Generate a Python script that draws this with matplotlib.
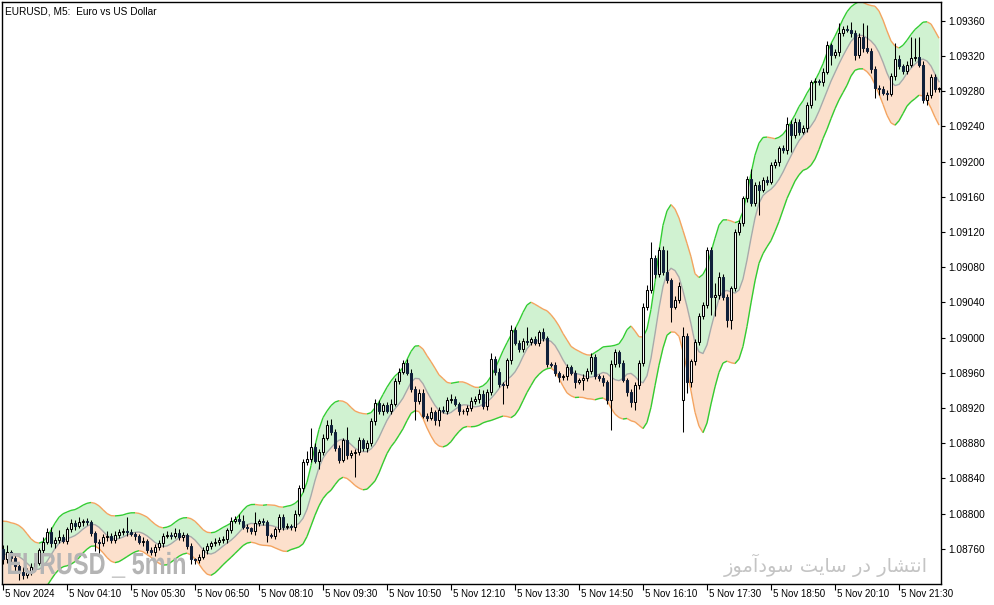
import numpy as np
import matplotlib
matplotlib.use("Agg")
import matplotlib.pyplot as plt
import matplotlib.transforms as mtrans
from matplotlib.collections import LineCollection
from matplotlib.textpath import TextPath
from matplotlib.font_manager import FontProperties
from matplotlib.patches import PathPatch

# EURUSD M5, 5 Nov 2024 - prices given as pips above 1.08700
base = 1.08700
first_open = 6.0
closes = [
    4.8, 5.6, 5.0, 4.0, 3.3, 3.0, 3.5, 3.9, 4.4, 5.8,
    6.8, 7.9, 6.7, 7.0, 7.3, 6.9, 8.2, 8.9, 8.6, 9.0,
    9.1, 9.0, 7.8, 6.8, 6.6, 7.3, 7.5, 7.0, 7.6, 7.9,
    8.0, 7.9, 7.7, 7.4, 6.8, 6.9, 5.9, 5.6, 6.2, 6.6,
    7.5, 7.6, 7.5, 7.8, 7.3, 7.6, 6.3, 4.8, 4.7, 5.1,
    5.8, 6.3, 6.6, 6.8, 7.0, 7.1, 8.1, 9.2, 9.4, 9.2,
    8.5, 8.3, 8.0, 8.9, 9.1, 9.0, 7.6, 7.5, 8.2, 9.6,
    8.5, 8.6, 8.5, 10.0, 12.9, 15.8, 16.2, 17.6, 16.0, 17.0,
    18.6, 20.1, 19.3, 17.4, 16.1, 18.3, 16.6, 16.9, 17.0, 18.3,
    17.4, 18.0, 20.5, 22.6, 21.6, 22.3, 21.7, 22.5, 25.1, 26.1,
    27.1, 26.0, 24.2, 22.8, 23.7, 21.1, 20.9, 21.5, 20.6, 21.8,
    21.7, 22.9, 23.0, 22.5, 21.6, 21.6, 22.0, 22.8, 23.0, 23.6,
    22.2, 23.8, 27.6, 26.1, 24.7, 24.6, 27.4, 30.9, 29.4, 28.7,
    29.6, 29.5, 29.8, 29.4, 30.6, 29.9, 27.0, 26.9, 26.0, 25.5,
    25.6, 26.6, 26.0, 25.0, 25.2, 25.4, 26.2, 27.8, 25.6, 25.4,
    24.9, 22.9, 27.0, 28.3, 27.1, 25.2, 23.8, 22.7, 24.6, 27.1,
    33.5, 35.4, 39.0, 37.2, 39.9, 37.5, 36.5, 33.5, 34.3, 35.8,
    30.2, 25.0, 27.3, 29.5, 32.4, 33.7, 39.9, 34.6, 34.8, 36.9,
    34.6, 32.0, 35.6, 42.0, 43.0, 45.8, 48.0, 45.3, 47.3, 46.8,
    47.9, 47.7, 49.6, 49.9, 51.5, 51.3, 54.3, 53.0, 54.5, 53.4,
    53.8, 56.4, 59.0, 59.1, 59.0, 60.2, 63.2, 62.1, 62.4, 64.6,
    65.1, 65.0, 64.6, 62.1, 64.2, 62.9, 62.6, 60.5, 58.4, 58.2,
    57.8, 57.7, 59.7, 61.7, 60.8, 60.3, 61.0, 61.8, 61.9, 61.0,
    57.0, 57.6, 59.6, 58.2, 58.3,
]
# the 15:20 bar (index 170) opened on a gap after the news spike
gap_bar = 170
gap_open = 22.9
# wick length above / below the body, pips
upper_wick = [
    0.4, 0.8, 0.3, 0.5, 0.4, 0.6, 0.3, 0.5, 0.4, 0.3,
    0.5, 0.4, 0.6, 0.3, 0.8, 0.4, 0.3, 0.5, 0.4, 0.6,
    0.3, 0.4, 0.3, 0.2, 0.3, 0.4, 0.5, 0.3, 0.4, 0.3,
    0.4, 1.6, 0.3, 0.2, 0.3, 0.4, 0.2, 0.3, 0.3, 0.4,
    0.3, 0.4, 0.3, 0.5, 0.4, 0.3, 0.2, 0.3, 0.2, 0.3,
    0.4, 0.3, 0.3, 0.4, 0.3, 0.3, 0.2, 0.4, 0.3, 0.5,
    0.6, 0.3, 0.2, 1.3, 0.3, 0.4, 0.3, 0.2, 0.3, 0.3,
    0.3, 0.3, 0.2, 0.4, 0.3, 0.4, 0.9, 2.1, 0.4, 0.3,
    0.4, 0.5, 0.6, 0.3, 0.4, 0.3, 1.5, 0.3, 0.3, 0.4,
    0.3, 0.4, 0.3, 0.4, 0.3, 0.3, 0.4, 0.5, 0.3, 0.4,
    0.3, 0.5, 0.4, 0.3, 0.5, 0.4, 0.3, 0.6, 0.3, 0.3,
    0.4, 0.3, 0.6, 0.3, 0.2, 0.3, 0.3, 0.4, 0.3, 0.5,
    0.4, 0.3, 0.6, 0.3, 0.4, 0.3, 0.3, 0.5, 0.3, 0.3,
    0.4, 1.6, 0.3, 0.4, 0.3, 0.5, 0.3, 0.2, 0.3, 0.2,
    0.3, 0.4, 0.3, 0.3, 0.2, 0.4, 0.3, 0.4, 0.3, 0.3,
    0.3, 0.3, 0.4, 0.4, 0.3, 0.3, 0.2, 0.3, 0.3, 0.4,
    0.4, 0.6, 1.9, 0.4, 0.4, 0.5, 2.4, 0.3, 0.4, 0.5,
    1.0, 0.3, 0.3, 0.3, 0.4, 0.3, 0.4, 0.4, 1.4, 0.5,
    0.3, 0.4, 0.3, 0.3, 0.4, 0.3, 0.4, 1.1, 0.4, 0.5,
    0.3, 0.4, 0.3, 0.4, 0.3, 0.4, 0.8, 0.4, 0.5, 0.3,
    0.3, 0.4, 0.3, 0.4, 0.3, 0.4, 0.5, 0.3, 0.4, 1.1,
    0.3, 0.4, 0.8, 0.3, 0.4, 1.5, 2.6, 0.3, 0.4, 0.3,
    0.4, 0.3, 0.4, 1.8, 0.4, 0.3, 0.4, 2.4, 2.1, 2.3,
    0.4, 0.3, 0.4, 0.3, 0.2,
]
lower_wick = [
    0.5, 0.4, 0.6, 0.5, 0.8, 0.4, 0.3, 0.5, 0.4, 0.3,
    0.4, 0.3, 0.5, 0.6, 0.4, 0.3, 0.4, 0.3, 0.5, 0.3,
    0.4, 0.3, 0.4, 1.1, 1.1, 0.3, 0.4, 0.3, 0.3, 0.4,
    0.3, 0.4, 0.3, 0.4, 0.3, 0.5, 0.4, 0.3, 0.4, 0.3,
    0.4, 0.3, 0.4, 0.3, 0.3, 0.4, 0.3, 0.5, 0.4, 0.3,
    0.3, 0.4, 0.3, 0.3, 0.4, 0.3, 0.4, 0.3, 0.3, 0.4,
    0.3, 0.4, 0.3, 0.4, 0.3, 0.3, 0.8, 0.3, 0.4, 0.3,
    0.4, 0.3, 0.4, 0.5, 0.3, 0.4, 0.3, 0.4, 0.3, 0.9,
    0.4, 0.3, 0.4, 0.3, 0.4, 0.3, 0.4, 0.3, 2.8, 0.4,
    0.3, 0.4, 0.3, 0.4, 0.3, 0.4, 0.3, 0.4, 0.3, 0.4,
    0.3, 0.3, 0.4, 2.2, 0.3, 0.3, 0.4, 0.3, 0.5, 0.6,
    0.3, 0.4, 0.3, 0.3, 0.4, 0.3, 0.4, 0.3, 0.3, 0.4,
    0.3, 0.4, 0.3, 0.4, 0.3, 2.1, 0.3, 0.4, 0.3, 0.4,
    0.3, 0.3, 0.4, 0.3, 0.4, 0.3, 0.4, 0.3, 0.4, 0.5,
    0.3, 0.4, 0.3, 0.7, 0.3, 1.2, 0.3, 0.4, 0.3, 0.3,
    0.4, 0.5, 3.4, 0.3, 0.4, 0.3, 0.4, 0.6, 0.9, 0.4,
    0.3, 0.4, 0.3, 0.4, 0.3, 0.4, 0.3, 1.7, 0.3, 0.4,
    3.6, 1.3, 0.6, 0.4, 0.4, 0.3, 0.4, 2.0, 2.2, 0.4,
    0.3, 0.8, 1.0, 0.3, 0.4, 0.3, 0.4, 0.4, 0.3, 2.9,
    0.3, 0.4, 0.3, 0.3, 0.4, 0.3, 0.4, 1.9, 0.3, 0.4,
    0.3, 0.4, 0.3, 2.0, 0.3, 0.4, 0.3, 1.1, 0.3, 0.4,
    0.3, 0.3, 0.4, 0.6, 0.3, 0.4, 0.3, 0.4, 1.2, 0.6,
    0.2, 0.7, 0.3, 0.4, 0.3, 0.4, 0.3, 0.3, 0.4, 0.3,
    0.3, 0.6, 0.4, 0.3, 0.3,
]
time_labels = ["5 Nov 2024", "5 Nov 04:10", "5 Nov 05:30", "5 Nov 06:50",
               "5 Nov 08:10", "5 Nov 09:30", "5 Nov 10:50", "5 Nov 12:10",
               "5 Nov 13:30", "5 Nov 14:50", "5 Nov 16:10", "5 Nov 17:30",
               "5 Nov 18:50", "5 Nov 20:10", "5 Nov 21:30"]
price_ticks = [1.08760, 1.08800, 1.08840, 1.08880, 1.08920, 1.08960, 1.09000, 1.09040,
               1.09080, 1.09120, 1.09160, 1.09200, 1.09240, 1.09280, 1.09320, 1.09360]
title = "EURUSD, M5:  Euro vs US Dollar"
watermark = "EURUSD _ 5min"
site_text = "انتشار در سایت سودآموز"

# ---- prices
c = base + np.array(closes) / 1e4
o = np.concatenate([[base + first_open / 1e4], c[:-1]])
o[gap_bar] = base + gap_open / 1e4
h = np.maximum(o, c) + np.array(upper_wick) / 1e4
l = np.minimum(o, c) - np.array(lower_wick) / 1e4
n = len(c)
x = np.arange(n)


def sma(v, period):
    out = np.zeros(len(v))
    for i in range(len(v)):
        out[i] = np.mean(v[max(0, i - period + 1):i + 1])
    return out


# band indicator: triangular average of the median price, width from the average bar range
mid = sma(sma((h + l) / 2, 4), 4)
dev = sma(sma(h - l, 6), 6)
upper = mid + 1.8 * dev
lower = mid - 1.8 * dev


# minimal Persian shaping (presentation forms) so the text shows joined, right to left
FORMS = {
    "ا": ("\uFE8D", "\uFE8E", None, None),
    "آ": ("\uFE81", "\uFE82", None, None),
    "د": ("\uFEA9", "\uFEAA", None, None),
    "ر": ("\uFEAD", "\uFEAE", None, None),
    "ز": ("\uFEAF", "\uFEB0", None, None),
    "و": ("\uFEED", "\uFEEE", None, None),
    "ن": ("\uFEE5", "\uFEE6", "\uFEE7", "\uFEE8"),
    "ت": ("\uFE95", "\uFE96", "\uFE97", "\uFE98"),
    "ش": ("\uFEB5", "\uFEB6", "\uFEB7", "\uFEB8"),
    "س": ("\uFEB1", "\uFEB2", "\uFEB3", "\uFEB4"),
    "ی": ("\uFEEF", "\uFEF0", "\uFEF3", "\uFEF4"),
    "م": ("\uFEE1", "\uFEE2", "\uFEE3", "\uFEE4"),
}


def shape(text):
    out = []
    for i, ch in enumerate(text):
        if ch not in FORMS:
            out.append(ch)
            continue
        prev = text[i - 1] if i > 0 else " "
        nxt = text[i + 1] if i + 1 < len(text) else " "
        jp = prev in FORMS and FORMS[prev][2] is not None
        jn = nxt in FORMS and FORMS[ch][2] is not None
        iso, fin, ini, med = FORMS[ch]
        if jp and jn:
            out.append(med)
        elif jp:
            out.append(fin)
        elif jn:
            out.append(ini)
        else:
            out.append(iso)
    return "".join(reversed(out))


W, H = 994, 605
fig = plt.figure(figsize=(W / 100, H / 100), dpi=100)
ax = fig.add_axes([2 / W, 21 / H, 939 / W, 582 / H])

ax.fill_between(x, mid, upper, color="#d0f2d1", lw=0, zorder=1)
ax.fill_between(x, lower, mid, color="#fce0cc", lw=0, zorder=1)

for band in (upper, lower):
    segs = [[(x[i], band[i]), (x[i + 1], band[i + 1])] for i in range(n - 1)]
    cols = ["#32cd32" if band[i + 1] >= band[i] else "#f4a460" for i in range(n - 1)]
    ax.add_collection(LineCollection(segs, colors=cols, linewidths=1.0, zorder=2))
ax.plot(x, mid, color="#a9a9a9", lw=1.0, zorder=2)

# candles
ax.vlines(x, l, h, color="black", lw=0.75, zorder=3)
bull = c >= o
body = np.maximum(np.abs(c - o), 0.02e-4)
ax.bar(x[bull], body[bull], bottom=np.minimum(o, c)[bull], width=0.62,
       facecolor="white", edgecolor="black", lw=0.75, zorder=4)
ax.bar(x[~bull], body[~bull], bottom=np.minimum(o, c)[~bull], width=0.62,
       facecolor="#10203a", edgecolor="#10203a", lw=0.75, zorder=4)

ax.set_xlim(-0.25, 234.5)
ax.set_ylim(1.087199, 1.0938125)

ax.yaxis.tick_right()
ax.set_yticks(price_ticks)
ax.set_yticklabels(["%.5f" % p for p in price_ticks])
ax.set_xticks(np.arange(len(time_labels)) * 16)
ax.set_xticklabels(time_labels)
ax.tick_params(axis="y", length=3, width=0.8, pad=2.5, labelsize=7.3, direction="out")
ax.tick_params(axis="x", length=4, width=0.8, pad=-0.5, labelsize=7.0, direction="out")
offset = mtrans.ScaledTranslation(2 / 100, 0, fig.dpi_scale_trans)
for lab in ax.get_xticklabels():
    lab.set_horizontalalignment("left")
    lab.set_transform(lab.get_transform() + offset)
    lab.set_family(["Liberation Sans", "DejaVu Sans"])
for lab in ax.get_yticklabels():
    lab.set_family(["Liberation Sans", "DejaVu Sans"])
for sp in ax.spines.values():
    sp.set_linewidth(1.0)
    sp.set_color("black")

fig.text(5 / W, 1 - 11 / H, title, fontsize=7.3, va="center", ha="left",
         family=["Liberation Sans", "DejaVu Sans"])

# narrow bold watermark: squeeze a bold text path into the box it takes in the picture
wm_font = FontProperties(family=["Liberation Sans", "DejaVu Sans"], weight="bold")
wm_path = TextPath((0, 0), watermark, size=1, prop=wm_font)
cap = TextPath((0, 0), "E", size=1, prop=wm_font).get_extents().height
ext = wm_path.get_extents()
sy = 21 / cap
sx = 177 / ext.width
wm_tf = mtrans.Affine2D().translate(-ext.x0, 0).scale(sx, sy).translate(8, H - 574)
fig.add_artist(PathPatch(wm_tf.transform_path(wm_path), transform=mtrans.IdentityTransform(),
                         facecolor="#b4b4b4", edgecolor="none", zorder=10))

fig.text(826 / W, 1 - 565 / H, shape(site_text), fontsize=14, color="#c4c4c4",
         va="center", ha="center", family=["DejaVu Sans"], zorder=10)

fig.savefig("out.png", dpi=100)
